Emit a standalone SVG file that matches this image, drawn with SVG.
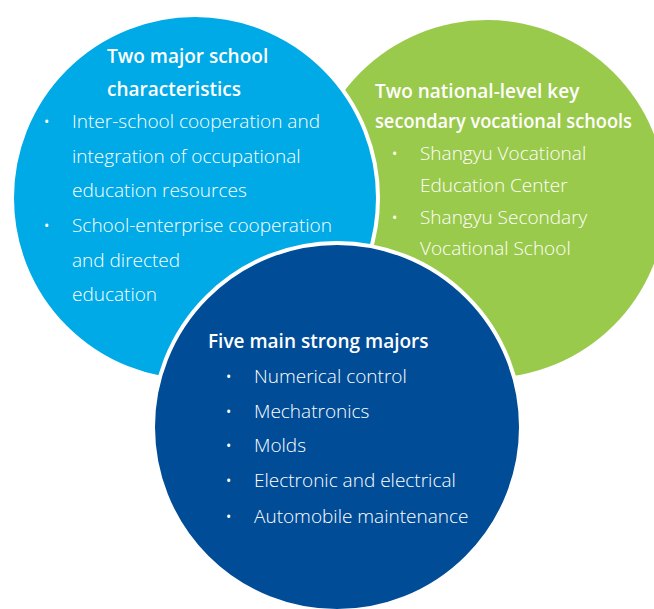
<svg xmlns="http://www.w3.org/2000/svg" width="654" height="609" viewBox="0 0 654 609">
<style>
.ttl{font-family:"Open Sans","Noto Sans","Liberation Sans",sans-serif;font-weight:600;font-size:19px;fill:#ffffff}
.itm{font-family:"Open Sans","Noto Sans","Liberation Sans",sans-serif;font-weight:300;font-size:19px;fill:#ffffff}
.bul{font-family:"Open Sans","Noto Sans","Liberation Sans",sans-serif;font-size:14px;fill:#ffffff}
.ring{stroke:#ffffff;stroke-width:4}
</style>
<rect width="654" height="609" fill="#ffffff"/>
<g id="connectors"/>
<g id="node-national-schools">
<circle cx="487" cy="199" r="179" fill="#9aca4b"/>
<text class="ttl" x="375" y="98">Two national-level key</text>
<text class="ttl" x="375" y="128" textLength="257" lengthAdjust="spacingAndGlyphs">secondary vocational schools</text>
<text class="bul" x="392" y="159">•</text>
<text class="itm" x="420" y="160">Shangyu Vocational</text>
<text class="itm" x="420" y="192">Education Center</text>
<text class="bul" x="392" y="223">•</text>
<text class="itm" x="420" y="224">Shangyu Secondary</text>
<text class="itm" x="420" y="255">Vocational School</text>
</g>
<g id="node-school-characteristics">
<circle class="ring" cx="195" cy="198" r="183" fill="#00aae6"/>
<text class="ttl" x="107" y="63">Two major school</text>
<text class="ttl" x="107" y="96">characteristics</text>
<text class="bul" x="44" y="127">•</text>
<text class="itm" x="72" y="128">Inter-school cooperation and</text>
<text class="itm" x="72" y="163">integration of occupational</text>
<text class="itm" x="72" y="197">education resources</text>
<text class="bul" x="44" y="231">•</text>
<text class="itm" x="72" y="232">School-enterprise cooperation</text>
<text class="itm" x="72" y="267">and directed</text>
<text class="itm" x="72" y="301">education</text>
</g>
<g id="node-strong-majors">
<circle class="ring" cx="337" cy="427" r="184" fill="#004c97"/>
<text class="ttl" x="208" y="348">Five main strong majors</text>
<text class="bul" x="226" y="382">•</text>
<text class="itm" x="254" y="383">Numerical control</text>
<text class="bul" x="226" y="417">•</text>
<text class="itm" x="254" y="418">Mechatronics</text>
<text class="bul" x="226" y="451">•</text>
<text class="itm" x="254" y="452">Molds</text>
<text class="bul" x="226" y="486">•</text>
<text class="itm" x="254" y="487">Electronic and electrical</text>
<text class="bul" x="226" y="522">•</text>
<text class="itm" x="254" y="523">Automobile maintenance</text>
</g>
</svg>
